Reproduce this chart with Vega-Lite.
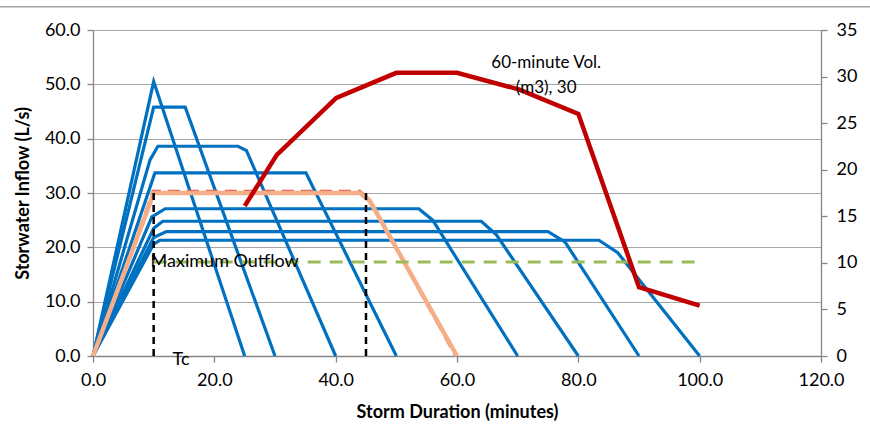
{
  "$schema": "https://vega.github.io/schema/vega-lite/v6.json",
  "width": 728,
  "height": 326,
  "autosize": {"type": "none"},
  "padding": {"left": 93, "top": 30, "right": 49, "bottom": 70},
  "background": "white",
  "config": {
    "view": {"stroke": null},
    "font": "Lato",
    "axis": {
      "labelFont": "Lato", "labelFontSize": 18, "labelColor": "#000000",
      "titleFont": "Lato", "titleFontSize": 18, "titleFontWeight": "bold", "titleColor": "#000000",
      "domainColor": "#868686", "tickColor": "#868686", "gridColor": "#A6A6A6",
      "domainWidth": 1.3, "tickWidth": 1.3, "tickSize": 6, "labelFlush": false
    }
  },
  "datasets": {
    "blue": [
      {"s": "D10", "o": 0, "x": 0, "y": 0}, {"s": "D10", "o": 1, "x": 10, "y": 50.5}, {"s": "D10", "o": 2, "x": 25, "y": 0},
      {"s": "D15", "o": 0, "x": 0, "y": 0}, {"s": "D15", "o": 1, "x": 10, "y": 45.8}, {"s": "D15", "o": 2, "x": 15.2, "y": 45.8}, {"s": "D15", "o": 3, "x": 30, "y": 0},
      {"s": "D25", "o": 0, "x": 0, "y": 0}, {"s": "D25", "o": 1, "x": 9.4, "y": 36.1}, {"s": "D25", "o": 2, "x": 10.7, "y": 38.6}, {"s": "D25", "o": 3, "x": 23.9, "y": 38.6}, {"s": "D25", "o": 4, "x": 25.3, "y": 37.8}, {"s": "D25", "o": 5, "x": 40, "y": 0},
      {"s": "D35", "o": 0, "x": 0, "y": 0}, {"s": "D35", "o": 1, "x": 10.2, "y": 33.7}, {"s": "D35", "o": 2, "x": 35.1, "y": 33.7}, {"s": "D35", "o": 3, "x": 50, "y": 0},
      {"s": "D55", "o": 0, "x": 0, "y": 0}, {"s": "D55", "o": 1, "x": 9.7, "y": 25.6}, {"s": "D55", "o": 2, "x": 11.9, "y": 27.1}, {"s": "D55", "o": 3, "x": 53.7, "y": 27.1}, {"s": "D55", "o": 4, "x": 56, "y": 25}, {"s": "D55", "o": 5, "x": 70, "y": 0},
      {"s": "D65", "o": 0, "x": 0, "y": 0}, {"s": "D65", "o": 1, "x": 10, "y": 23.5}, {"s": "D65", "o": 2, "x": 11.5, "y": 24.8}, {"s": "D65", "o": 3, "x": 64, "y": 24.8}, {"s": "D65", "o": 4, "x": 66.5, "y": 22.3}, {"s": "D65", "o": 5, "x": 80, "y": 0},
      {"s": "D75", "o": 0, "x": 0, "y": 0}, {"s": "D75", "o": 1, "x": 10, "y": 21.8}, {"s": "D75", "o": 2, "x": 12.1, "y": 22.9}, {"s": "D75", "o": 3, "x": 75, "y": 22.9}, {"s": "D75", "o": 4, "x": 77.8, "y": 21.0}, {"s": "D75", "o": 5, "x": 90, "y": 0},
      {"s": "D85", "o": 0, "x": 0, "y": 0}, {"s": "D85", "o": 1, "x": 10, "y": 20.6}, {"s": "D85", "o": 2, "x": 11, "y": 21.3}, {"s": "D85", "o": 3, "x": 83.4, "y": 21.3}, {"s": "D85", "o": 4, "x": 86.5, "y": 19.0}, {"s": "D85", "o": 5, "x": 100, "y": 0}
    ],
    "reddash": [
      {"o": 0, "x": 0, "y": 0}, {"o": 1, "x": 8.7, "y": 26.5}, {"o": 2, "x": 9.9, "y": 30.3}, {"o": 3, "x": 44, "y": 30.3}, {"o": 4, "x": 45.5, "y": 28.9}, {"o": 5, "x": 59.8, "y": 0}
    ],
    "orange": [
      {"o": 0, "x": 0, "y": 0}, {"o": 1, "x": 8.8, "y": 26.3}, {"o": 2, "x": 10, "y": 30.0}, {"o": 3, "x": 44, "y": 30.0}, {"o": 4, "x": 45.6, "y": 28.6}, {"o": 5, "x": 60, "y": 0}
    ],
    "maxout": [{"o": 0, "x": 10, "y": 17.3}, {"o": 1, "x": 100, "y": 17.3}],
    "tc": [{"x": 10, "y": 0, "y2": 30}, {"x": 45, "y": 0, "y2": 30}],
    "border": [{"x": -15.5, "x2": 130, "y": 64.3}],
    "labels": [
      {"t": "Maximum Outflow", "x": 21.7, "y": 17.3},
      {"t": "Tc", "x": 14.5, "y": -0.8}
    ],
    "vol": [
      {"x": 25, "v": 16.1}, {"x": 30.3, "v": 21.6}, {"x": 40.1, "v": 27.7}, {"x": 50, "v": 30.4}, {"x": 60, "v": 30.4},
      {"x": 70.3, "v": 28.6}, {"x": 80, "v": 26.0}, {"x": 90, "v": 7.4}, {"x": 100, "v": 5.4}
    ],
    "vollabel": [{"t": "60-minute Vol.\n(m3), 30", "x": 74.7, "v": 31.45}]
  },
  "resolve": {"scale": {"y": "independent"}},
  "layer": [
    {
      "encoding": {
        "x": {"field": "x", "type": "quantitative", "scale": {"domain": [0, 120], "nice": false},
          "axis": {"values": [0, 20, 40, 60, 80, 100, 120], "format": ".1f", "title": "Storm Duration (minutes)", "grid": false, "labelPadding": 9, "titlePadding": 14}},
        "y": {"field": "y", "type": "quantitative", "scale": {"domain": [0, 60], "nice": false},
          "axis": {"values": [0, 10, 20, 30, 40, 50, 60], "format": ".1f", "grid": true, "title": "Storwater Inflow (L/s)", "labelPadding": 7, "titlePadding": 12}}
      },
      "layer": [
        {
          "data": {"name": "border"},
          "mark": {"type": "rule", "color": "#A6A6A6", "strokeWidth": 1.5, "clip": false},
          "encoding": {"x2": {"field": "x2"}}
        },
        {
          "data": {"name": "blue"},
          "mark": {"type": "line", "color": "#0070C0", "strokeWidth": 3.2},
          "encoding": {"detail": {"field": "s"}, "order": {"field": "o"}}
        },
        {
          "data": {"name": "reddash"},
          "mark": {"type": "line", "color": "#E05A4A", "strokeWidth": 3, "strokeDash": [12, 7]},
          "encoding": {"order": {"field": "o"}}
        },
        {
          "data": {"name": "orange"},
          "mark": {"type": "line", "color": "#F6AE88", "strokeWidth": 4.5},
          "encoding": {"order": {"field": "o"}}
        },
        {
          "data": {"name": "maxout"},
          "mark": {"type": "line", "color": "#9BBB59", "strokeWidth": 3, "strokeDash": [13, 9]},
          "encoding": {"order": {"field": "o"}}
        },
        {
          "data": {"name": "tc"},
          "mark": {"type": "rule", "color": "#000000", "strokeWidth": 2.5, "strokeDash": [7, 5]},
          "encoding": {"y2": {"field": "y2"}}
        },
        {
          "data": {"name": "labels"},
          "mark": {"type": "text", "fontSize": 18, "font": "Lato", "color": "#000000", "align": "center", "baseline": "middle", "clip": false},
          "encoding": {"text": {"field": "t"}}
        }
      ]
    },
    {
      "encoding": {
        "x": {"field": "x", "type": "quantitative"},
        "y": {"field": "v", "type": "quantitative", "scale": {"domain": [0, 35], "nice": false},
          "axis": {"orient": "right", "values": [0, 5, 10, 15, 20, 25, 30, 35], "format": "d", "grid": false, "title": null, "labelPadding": 9}}
      },
      "layer": [
        {
          "data": {"name": "vol"},
          "mark": {"type": "line", "color": "#C00000", "strokeWidth": 4.5}
        },
        {
          "data": {"name": "vollabel"},
          "mark": {"type": "text", "fontSize": 17, "font": "Lato", "color": "#000000", "align": "center", "baseline": "middle", "lineBreak": "\n", "lineHeight": 25},
          "encoding": {"text": {"field": "t"}}
        }
      ]
    }
  ]
}
